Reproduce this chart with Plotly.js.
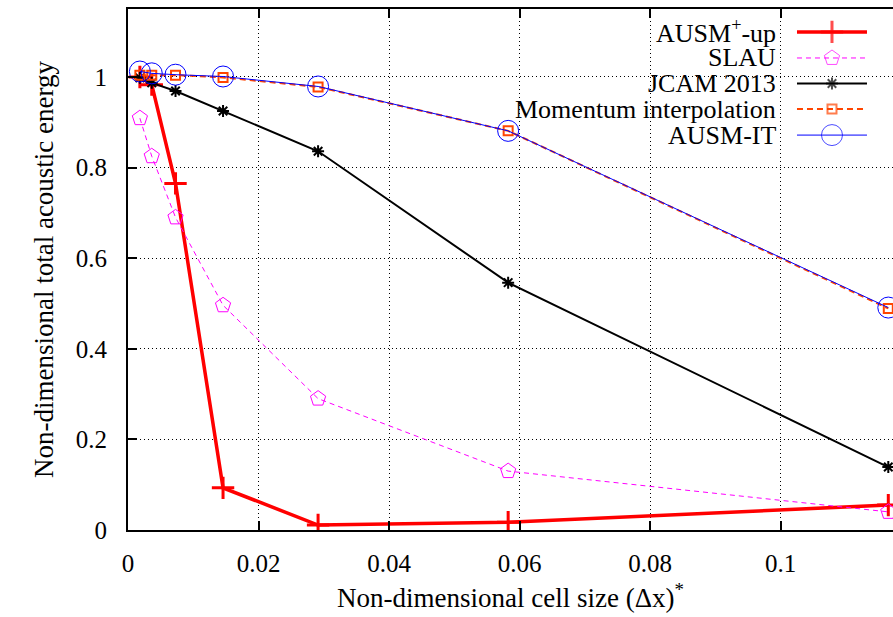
<!DOCTYPE html>
<html>
<head>
<meta charset="utf-8">
<script src="https://cdn.plot.ly/plotly-3.0.1.min.js"></script>
<style>
  html, body { margin: 0; padding: 0; background: #fff; }
  #chart { width: 893px; height: 617px; }
</style>
</head>
<body>
<div id="chart"></div>
<script>
// ---- data ----
const cellSize = [0.00182, 0.00364, 0.00728, 0.01456, 0.02912, 0.05824, 0.11648];
const ausmPlusUp = [1.000, 0.983, 0.765, 0.093, 0.011, 0.017, 0.055];
const slau = [0.909, 0.825, 0.690, 0.496, 0.290, 0.130, 0.040];
const jcam2013 = [0.998, 0.987, 0.969, 0.925, 0.836, 0.546, 0.139];
const momentumInterp = [1.004, 1.004, 1.004, 0.999, 0.978, 0.881, 0.489];
const ausmIT = [1.012, 1.008, 1.005, 1.001, 0.979, 0.881, 0.491];
const seriesNames = ['AUSM<sup>+</sup>-up', 'SLAU', 'JCAM 2013', 'Momentum interpolation', 'AUSM-IT'];
const xTickVals = [0, 0.02, 0.04, 0.06, 0.08, 0.1];
const xTickText = ['0', '0.02', '0.04', '0.06', '0.08', '0.1'];
const yTickVals = [0, 0.2, 0.4, 0.6, 0.8, 1];
const yTickText = ['0', '0.2', '0.4', '0.6', '0.8', '1'];

// ---- styles ----
const FONT = '"Liberation Serif", "DejaVu Serif", serif';
const styles = [
  {line: {color: '#ff0000', width: 3.5}, marker: {symbol: 'cross-thin-open', size: 16, color: '#ff0000', line: {color: '#ff0000', width: 3}}},
  {line: {color: '#ff00ff', width: 1, dash: '5px,4px'}, marker: {symbol: 'pentagon-open', size: 16, color: '#ff00ff', line: {color: '#ff00ff', width: 1}}},
  {line: {color: '#000000', width: 2}, marker: {symbol: 'asterisk-open', size: 10, color: '#000000', line: {color: '#000000', width: 2}}},
  {line: {color: '#ff4500', width: 2, dash: '6px,4px'}, marker: {symbol: 'square-open', size: 9, color: '#ff4500', line: {color: '#ff4500', width: 2}}},
  {line: {color: '#0000ff', width: 1}, marker: {symbol: 'circle-open', size: 21, color: '#0000ff', line: {color: '#0000ff', width: 1}}}
];
const seriesVals = [ausmPlusUp, slau, jcam2013, momentumInterp, ausmIT];

const traces = seriesVals.map((ys, i) => ({
  type: 'scatter', mode: 'lines+markers',
  x: cellSize, y: ys, name: seriesNames[i],
  line: styles[i].line, marker: styles[i].marker,
  showlegend: false, hoverinfo: 'skip'
}));

// ---- custom legend (text left, sample right, like gnuplot) ----
const legRowY = [0.956, 0.906, 0.857, 0.808, 0.758];
const legX0 = 0.8745, legX1 = 0.966, legXText = 0.8497;
const annotations = [];
seriesNames.forEach((nm, i) => {
  const m = styles[i].marker;
  traces.push({
    type: 'scatter', mode: 'lines+markers', xaxis: 'x2', yaxis: 'y2',
    x: [legX0, (legX0 + legX1) / 2, legX1], y: [legRowY[i], legRowY[i], legRowY[i]],
    line: styles[i].line,
    marker: {symbol: m.symbol, color: m.color, size: [0, m.size, 0],
             line: {color: m.line.color, width: [0, m.line.width, 0]}},
    showlegend: false, hoverinfo: 'skip', cliponaxis: false
  });
  annotations.push({
    xref: 'paper', yref: 'paper', x: legXText, y: legRowY[i],
    xanchor: 'right', yanchor: 'middle', showarrow: false,
    text: nm, font: {family: FONT, size: 26, color: '#000'}
  });
});

const layout = {
  width: 893, height: 617,
  margin: {l: 128, r: 0, t: 9, b: 87, pad: 0},
  paper_bgcolor: '#fff', plot_bgcolor: '#fff',
  font: {family: FONT, size: 25, color: '#000'},
  showlegend: false,
  xaxis: {
    range: [0, 0.1172], tickvals: xTickVals, ticktext: xTickText,
    ticks: 'inside', ticklen: 9, tickwidth: 2, tickcolor: '#000',
    showline: true, linewidth: 2, linecolor: '#000', mirror: 'ticks',
    showgrid: true, gridcolor: '#000', gridwidth: 1, griddash: '1px,3px',
    zeroline: false, ticklabelstandoff: 10,
    tickfont: {family: FONT, size: 25, color: '#000'},
    title: {text: 'Non-dimensional cell size (Δx)<sup>*</sup>', font: {family: FONT, size: 27, color: '#000'}, standoff: 12}
  },
  yaxis: {
    range: [0, 1.15], tickvals: yTickVals, ticktext: yTickText,
    ticks: 'inside', ticklen: 9, tickwidth: 2, tickcolor: '#000',
    showline: true, linewidth: 2, linecolor: '#000', mirror: false,
    showgrid: true, gridcolor: '#000', gridwidth: 1, griddash: '1px,3px',
    zeroline: false, ticklabelstandoff: 14,
    tickfont: {family: FONT, size: 25, color: '#000'},
    title: {text: 'Non-dimensional total acoustic energy', font: {family: FONT, size: 27, color: '#000'}, standoff: 14}
  },
  xaxis2: {overlaying: 'x', range: [0, 1], visible: false, fixedrange: true},
  yaxis2: {overlaying: 'y', range: [0, 1], visible: false, fixedrange: true},
  shapes: [{
    type: 'rect', xref: 'paper', yref: 'paper', layer: 'between',
    x0: 0.399, x1: 0.987, y0: 0.729, y1: 0.994,
    fillcolor: '#ffffff', line: {width: 0}
  }],
  annotations: annotations
};

Plotly.newPlot('chart', traces, layout, {displayModeBar: false, staticPlot: true});
</script>
</body>
</html>
